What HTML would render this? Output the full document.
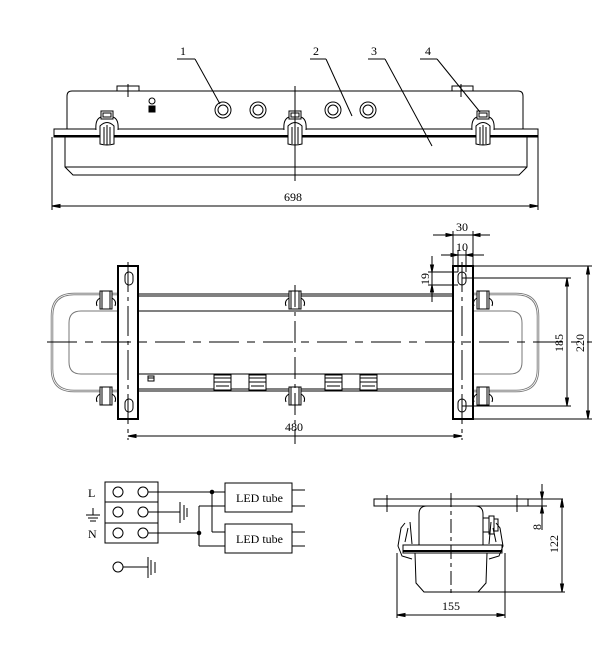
<!DOCTYPE html>
<html><head><style>
html,body{margin:0;padding:0;background:#fff;}
svg{display:block;}
text{font-family:"Liberation Serif",serif;font-size:12px;fill:#000;}
</style></head><body>
<svg width="608" height="663" viewBox="0 0 608 663" xmlns="http://www.w3.org/2000/svg" fill="none" stroke="#000" stroke-width="1">
<!-- ===== TOP VIEW ===== -->
<g>
<rect x="117" y="86" width="22" height="5"/>
<rect x="452" y="86" width="21" height="5"/>
<line x1="128" y1="84" x2="128" y2="97"/>
<line x1="461" y1="84" x2="461" y2="97"/>
<path d="M67,129 V96 Q67,91 72,91 H518 Q523,91 523,96 V129"/>
<rect x="54" y="129" width="484" height="8"/>
<line x1="54" y1="136" x2="538" y2="136" stroke-width="2"/>
<path d="M65,137 V167 L73,175 H519 L527,167 V137"/>
<line x1="65" y1="167" x2="527" y2="167"/>
<g>
<circle cx="223" cy="110" r="8"/><circle cx="223" cy="110" r="5"/>
<circle cx="258" cy="110" r="8"/><circle cx="258" cy="110" r="5"/>
<circle cx="333" cy="110" r="8"/><circle cx="333" cy="110" r="5"/>
<circle cx="368" cy="110" r="8"/><circle cx="368" cy="110" r="5"/>
</g>
<circle cx="152" cy="101" r="3"/>
<rect x="149" y="106" width="6" height="6" fill="#000"/>
<g id="clamp">
<path d="M96,130 Q95,119 101,117 H113 Q119,119 118,130" fill="#fff"/>
<rect x="101" y="111" width="12" height="8" fill="#fff"/>
<rect x="103" y="113" width="8" height="4"/>
<path d="M100,144 V126 Q107,119 114,126 V144 Q107,146 100,144 Z" fill="#fff"/>
<line x1="104" y1="127" x2="104" y2="144"/><line x1="107" y1="125" x2="107" y2="145"/><line x1="110" y1="127" x2="110" y2="144"/>
</g>
<use href="#clamp" x="188"/>
<use href="#clamp" x="376"/>
<line x1="295" y1="86" x2="295" y2="181"/>
<line x1="177" y1="59" x2="195" y2="59"/><line x1="195" y1="59" x2="220" y2="104"/>
<line x1="310" y1="59" x2="326" y2="59"/><line x1="326" y1="59" x2="352" y2="116"/>
<line x1="368" y1="59" x2="385" y2="59"/><line x1="385" y1="59" x2="432" y2="146"/>
<line x1="420" y1="59" x2="437" y2="59"/><line x1="437" y1="59" x2="480" y2="112"/>
<text x="180" y="55" stroke="none">1</text>
<text x="313" y="55" stroke="none">2</text>
<text x="371" y="55" stroke="none">3</text>
<text x="425" y="55" stroke="none">4</text>
<line x1="52" y1="137" x2="52" y2="210"/><line x1="538" y1="137" x2="538" y2="210"/>
<line x1="52" y1="206" x2="538" y2="206"/>
<path d="M52,206 l8,-1.5 v3 z M538,206 l-8,-1.5 v3 z" fill="#000"/>
<text x="284" y="201" stroke="none" font-size="11">698</text>
</g>

<!-- ===== PLAN VIEW ===== -->
<g>
<line x1="139" y1="294" x2="453" y2="294"/><line x1="139" y1="296" x2="453" y2="296"/>
<line x1="139" y1="311" x2="453" y2="311"/>
<line x1="139" y1="374" x2="453" y2="374"/>
<line x1="139" y1="389" x2="453" y2="389"/><line x1="139" y1="391" x2="453" y2="391"/>
<path d="M118,294 H74 Q52,294 52,316 V369 Q52,391 74,391 H118" stroke="#777" stroke-width="2.5"/>
<path d="M118,294 H74 Q52,294 52,316 V369 Q52,391 74,391 H118" stroke="#fff" stroke-width="0.8"/>
<path d="M118,311 H81 Q69,311 69,323 V362 Q69,374 81,374 H118" stroke="#777"/>
<path d="M473,294 H516 Q538,294 538,316 V369 Q538,391 516,391 H473" stroke="#777" stroke-width="2.5"/>
<path d="M473,294 H516 Q538,294 538,316 V369 Q538,391 516,391 H473" stroke="#fff" stroke-width="0.8"/>
<path d="M473,311 H510 Q522,311 522,323 V362 Q522,374 510,374 H473" stroke="#777"/>
<rect x="118" y="266" width="20" height="153" stroke-width="2" fill="#fff"/>
<rect x="453" y="266" width="20" height="153" stroke-width="2" fill="#fff"/>
<rect x="125" y="272" width="8" height="13" rx="4"/>
<rect x="125" y="399" width="8" height="13" rx="4"/>
<rect x="458" y="272" width="8" height="13" rx="4"/>
<rect x="458" y="399" width="8" height="13" rx="4"/>
<g id="pc">
<rect x="100" y="291" width="12" height="18" fill="#fff"/>
<line x1="102" y1="291" x2="102" y2="309"/><line x1="110" y1="291" x2="110" y2="309"/>
<path d="M100,298 q-5,3 -3,8 M112,298 q5,3 3,8"/>
</g>
<use href="#pc" y="96"/>
<use href="#pc" x="189"/>
<use href="#pc" x="189" y="96"/>
<use href="#pc" x="377"/>
<use href="#pc" x="377" y="96"/>
<g id="gl">
<rect x="214" y="375" width="17" height="15" fill="#fff"/>
<line x1="214" y1="378" x2="231" y2="378"/><line x1="214" y1="382" x2="231" y2="382"/><line x1="216" y1="386" x2="229" y2="386"/>
</g>
<use href="#gl" x="35"/>
<use href="#gl" x="111"/>
<use href="#gl" x="146"/>
<rect x="148" y="376" width="6" height="5"/><line x1="148" y1="378" x2="154" y2="378"/>
<line x1="47" y1="342" x2="592" y2="342" stroke-dasharray="30,8,8,8"/>
<line x1="295" y1="285" x2="295" y2="444" stroke-dasharray="22,5,4,5"/>
<line x1="128" y1="262" x2="128" y2="440" stroke-dasharray="30,5,4,5"/>
<line x1="462" y1="262" x2="462" y2="440" stroke-dasharray="30,5,4,5"/>
<line x1="128" y1="436" x2="462" y2="436"/>
<path d="M128,436 l8,-1.5 v3 z M462,436 l-8,-1.5 v3 z" fill="#000"/>
<text x="285" y="431" stroke="none" font-size="11">480</text>
<line x1="462" y1="278" x2="571" y2="278"/><line x1="462" y1="406" x2="571" y2="406"/>
<line x1="473" y1="266" x2="592" y2="266"/><line x1="473" y1="419" x2="592" y2="419"/>
<line x1="567" y1="278" x2="567" y2="406"/>
<path d="M567,278 l-1.5,8 h3 z M567,406 l-1.5,-8 h3 z" fill="#000"/>
<line x1="588" y1="266" x2="588" y2="419"/>
<path d="M588,266 l-1.5,8 h3 z M588,419 l-1.5,-8 h3 z" fill="#000"/>
<text transform="translate(563,352) rotate(-90)" stroke="none" font-size="11">185</text>
<text transform="translate(584,352) rotate(-90)" stroke="none" font-size="11">220</text>
<line x1="453" y1="231" x2="453" y2="266"/><line x1="473" y1="231" x2="473" y2="266"/>
<line x1="433" y1="235" x2="490" y2="235"/>
<path d="M453,235 l-7,-1.5 v3 z M473,235 l7,-1.5 v3 z" fill="#000"/>
<text x="456" y="231" stroke="none" font-size="11">30</text>
<line x1="458" y1="250" x2="458" y2="272"/><line x1="466" y1="250" x2="466" y2="272"/>
<line x1="441" y1="255" x2="484" y2="255"/>
<path d="M458,255 l-7,-1.5 v3 z M466,255 l7,-1.5 v3 z" fill="#000"/>
<text x="456" y="251" stroke="none" font-size="11">10</text>
<line x1="432" y1="256" x2="432" y2="302"/>
<line x1="428" y1="272" x2="458" y2="272"/><line x1="428" y1="285" x2="458" y2="285"/>
<path d="M432,272 l-1.5,-7 h3 z M432,285 l-1.5,7 h3 z" fill="#000"/>
<text transform="translate(429,285) rotate(-90)" stroke="none" font-size="11">19</text>
</g>

<!-- ===== WIRING ===== -->
<g>
<rect x="105" y="482" width="53" height="61"/>
<line x1="105" y1="502" x2="158" y2="502"/><line x1="105" y1="523" x2="158" y2="523"/>
<circle cx="118" cy="492" r="5"/><circle cx="143" cy="492" r="5"/>
<circle cx="118" cy="512" r="5"/><circle cx="143" cy="512" r="5"/>
<circle cx="118" cy="533" r="5"/><circle cx="143" cy="533" r="5"/>
<text x="88" y="497" stroke="none">L</text>
<text x="88" y="538" stroke="none">N</text>
<line x1="93" y1="508" x2="93" y2="515"/>
<line x1="86" y1="515" x2="100" y2="515"/><line x1="88" y1="518" x2="98" y2="518"/><line x1="90" y1="521" x2="96" y2="521"/>
<line x1="148" y1="492" x2="225" y2="492"/>
<line x1="212" y1="492" x2="212" y2="532"/><line x1="212" y1="532" x2="225" y2="532"/>
<circle cx="212" cy="492" r="1.8" fill="#000"/>
<line x1="148" y1="512" x2="180" y2="512"/>
<line x1="180" y1="502" x2="180" y2="523"/><line x1="184" y1="505" x2="184" y2="520"/><line x1="187" y1="508" x2="187" y2="517"/>
<line x1="148" y1="533" x2="199" y2="533"/>
<line x1="199" y1="506" x2="199" y2="546"/>
<line x1="199" y1="506" x2="225" y2="506"/><line x1="199" y1="546" x2="225" y2="546"/>
<circle cx="199" cy="533" r="1.8" fill="#000"/>
<rect x="225" y="483" width="67" height="29"/>
<rect x="225" y="524" width="67" height="29"/>
<text x="236" y="502" stroke="none" font-size="12">LED tube</text>
<text x="236" y="543" stroke="none" font-size="12">LED tube</text>
<line x1="292" y1="490" x2="305" y2="490"/><line x1="292" y1="506" x2="305" y2="506"/>
<line x1="292" y1="532" x2="305" y2="532"/><line x1="292" y1="546" x2="305" y2="546"/>
<circle cx="118" cy="567" r="5"/>
<line x1="123" y1="567" x2="148" y2="567"/>
<line x1="148" y1="557" x2="148" y2="578"/><line x1="151" y1="560" x2="151" y2="575"/><line x1="155" y1="562" x2="155" y2="573"/>
</g>

<!-- ===== SIDE VIEW ===== -->
<g>
<rect x="374" y="499" width="154" height="7"/>
<line x1="528" y1="499" x2="563" y2="499"/>
<line x1="528" y1="506" x2="547" y2="506"/>
<line x1="387" y1="495" x2="387" y2="512"/><line x1="517" y1="495" x2="517" y2="512"/>
<path d="M419,545 V514 Q419,506 427,506 H475 Q483,506 483,514 V545"/>
<rect x="403" y="545" width="99" height="8"/>
<line x1="403" y1="551" x2="502" y2="551" stroke-width="2"/>
<path d="M415,553 L416,583 L424,592 H478 L486,583 L487,553"/>
<path d="M405,523 l-4,5 l-3,18 l4,10 l10,3 M408,528 l-3,14 M410,522 l2,22"/>
<path d="M496,523 l4,5 l3,18 l-4,10 l-10,3 M493,528 l3,14 M491,522 l-2,22"/>
<rect x="483" y="518" width="6" height="14"/><rect x="489" y="516" width="5" height="18"/><rect x="494" y="519" width="4" height="12"/>
<line x1="451" y1="493" x2="451" y2="597" stroke-dasharray="14,4,4,4"/>
<line x1="542" y1="484" x2="542" y2="530"/>
<path d="M542,499 l-1.5,-7 h3 z M542,506 l-1.5,7 h3 z" fill="#000"/>
<text transform="translate(541,530) rotate(-90)" stroke="none" font-size="11">8</text>
<line x1="450" y1="592" x2="565" y2="592"/>
<line x1="562" y1="499" x2="562" y2="592"/>
<path d="M562,499 l-1.5,8 h3 z M562,592 l-1.5,-8 h3 z" fill="#000"/>
<text transform="translate(558,553) rotate(-90)" stroke="none" font-size="11">122</text>
<line x1="397" y1="553" x2="397" y2="618"/><line x1="505" y1="553" x2="505" y2="618"/>
<line x1="397" y1="615" x2="505" y2="615"/>
<path d="M397,615 l8,-1.5 v3 z M505,615 l-8,-1.5 v3 z" fill="#000"/>
<text x="442" y="610" stroke="none" font-size="11">155</text>
</g>
</svg>
</body></html>
